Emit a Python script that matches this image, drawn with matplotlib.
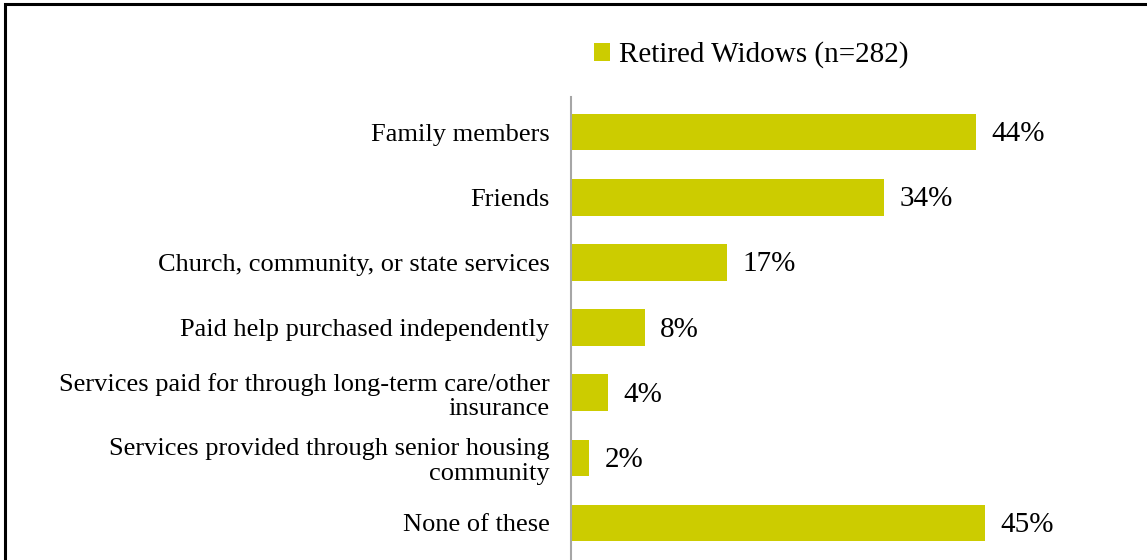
import matplotlib.pyplot as plt
from matplotlib.patches import Rectangle

categories = [
    'Family members',
    'Friends',
    'Church, community, or state services',
    'Paid help purchased independently',
    'Services paid for through long-term care/other\ninsurance',
    'Services provided through senior housing\ncommunity',
    'None of these',
]
values = [44, 34, 17, 8, 4, 2, 45]
value_labels = ['44%', '34%', '17%', '8%', '4%', '2%', '45%']
series_name = 'Retired Widows (n=282)'

bar_color = '#CCCC00'

plt.rcParams['font.family'] = ['Liberation Serif', 'DejaVu Serif']

W, H = 1147, 560
fig = plt.figure(figsize=(W / 100, H / 100), dpi=100)

# axes placed in pixel terms of the original picture
ax_left = 571 / W
ax_top = 1 - 97 / H
ax = fig.add_axes([ax_left, 0, 1 - ax_left, ax_top])

ypos = list(range(len(categories)))
bars = ax.barh(ypos, values, height=0.56, color=bar_color, label=series_name)

ax.set_xlim(0, 62.6)
ax.set_ylim(6.57, -0.54)

ax.set_yticks(ypos)
ax.set_yticklabels(categories, fontsize=19, linespacing=1.15)
ax.tick_params(axis='y', length=0, pad=15.5)
ax.set_xticks([])

for s in ['top', 'right', 'bottom']:
    ax.spines[s].set_visible(False)
ax.spines['left'].set_color('#A6A6A6')
ax.spines['left'].set_linewidth(1.5)

for b, lab in zip(bars, value_labels):
    ax.annotate(lab, (b.get_width(), b.get_y() + b.get_height() / 2),
                xytext=(11, -1.5), textcoords='offset points',
                ha='left', va='center', fontsize=21)

fig.legend(handles=[bars], labels=[series_name], loc='center left',
           bbox_to_anchor=(594 / W, 1 - 55 / H), frameon=False,
           fontsize=21, handlelength=0.55, handleheight=0.55,
           handletextpad=0.3, borderpad=0, borderaxespad=0)

# outer frame of the chart area (cut off at right and bottom)
fig.patches.append(Rectangle((5 / W, -0.1), 1.2, 1 - 4 / H + 0.1,
                             transform=fig.transFigure, fill=False,
                             edgecolor='black', linewidth=2.2))

fig.savefig('out.png', dpi=100)
